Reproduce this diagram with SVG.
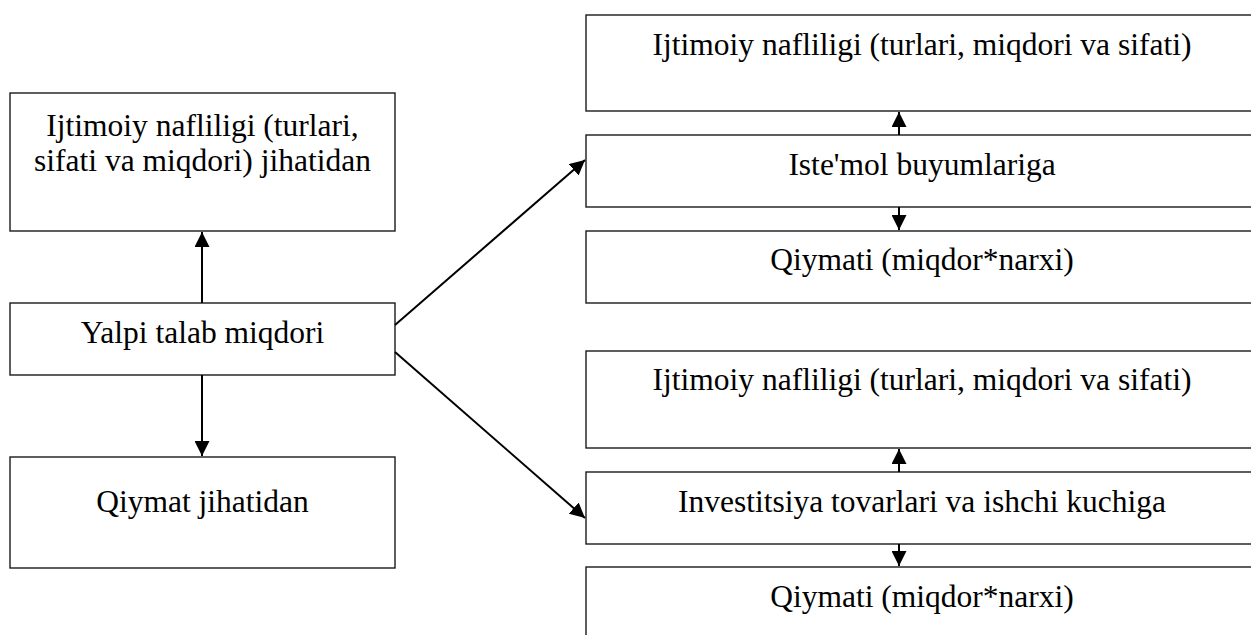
<svg xmlns="http://www.w3.org/2000/svg" width="1251" height="635" viewBox="0 0 1251 635">
<style>
.box{fill:#fff;stroke:#1a1a1a;stroke-width:1.4}
.t{font-family:"Liberation Serif","Times New Roman",serif;font-size:31.5px;fill:#000;text-anchor:middle}
.c{stroke:#000;stroke-width:2;fill:none}
</style>
<defs>
<marker id="ah" viewBox="0 0 10 10" refX="10" refY="5" markerWidth="7.5" markerHeight="7.5" orient="auto" markerUnits="strokeWidth">
<path d="M0,0 L10,5 L0,10 z" fill="#000"/>
</marker>
</defs>
<rect width="1251" height="635" fill="#fff"/>
<g id="n1"><rect class="box" x="10" y="93" width="385" height="138"/>
<text class="t" x="202.5" y="136">Ijtimoiy nafliligi (turlari,</text>
<text class="t" x="202.5" y="171">sifati va miqdori) jihatidan</text></g>
<g id="n2"><rect class="box" x="10" y="303" width="385" height="72"/>
<text class="t" x="202.5" y="343">Yalpi talab miqdori</text></g>
<g id="n3"><rect class="box" x="10" y="457" width="385" height="111"/>
<text class="t" x="202.5" y="512">Qiymat jihatidan</text></g>
<g id="r1"><rect class="box" x="586" y="15" width="700" height="96"/>
<text class="t" x="922" y="55">Ijtimoiy nafliligi (turlari, miqdori va sifati)</text></g>
<g id="r2"><rect class="box" x="586" y="135" width="700" height="72"/>
<text class="t" x="922" y="175">Iste'mol buyumlariga</text></g>
<g id="r3"><rect class="box" x="586" y="231" width="700" height="72"/>
<text class="t" x="922" y="270">Qiymati (miqdor*narxi)</text></g>
<g id="r4"><rect class="box" x="586" y="351" width="700" height="97"/>
<text class="t" x="922" y="390">Ijtimoiy nafliligi (turlari, miqdori va sifati)</text></g>
<g id="r5"><rect class="box" x="586" y="472" width="700" height="72"/>
<text class="t" x="922" y="512">Investitsiya tovarlari va ishchi kuchiga</text></g>
<g id="r6"><rect class="box" x="586" y="567" width="700" height="80"/>
<text class="t" x="922" y="607">Qiymati (miqdor*narxi)</text></g>
<g id="connectors">
<line class="c" x1="202" y1="303" x2="202" y2="232" marker-end="url(#ah)"/>
<line class="c" x1="202" y1="375" x2="202" y2="456" marker-end="url(#ah)"/>
<line class="c" x1="395" y1="325" x2="585" y2="160" marker-end="url(#ah)"/>
<line class="c" x1="395" y1="352" x2="585" y2="518" marker-end="url(#ah)"/>
<line class="c" x1="899" y1="135" x2="899" y2="112" marker-end="url(#ah)"/>
<line class="c" x1="899" y1="207" x2="899" y2="230" marker-end="url(#ah)"/>
<line class="c" x1="899" y1="472" x2="899" y2="449" marker-end="url(#ah)"/>
<line class="c" x1="899" y1="544" x2="899" y2="566" marker-end="url(#ah)"/>
</g>
</svg>
